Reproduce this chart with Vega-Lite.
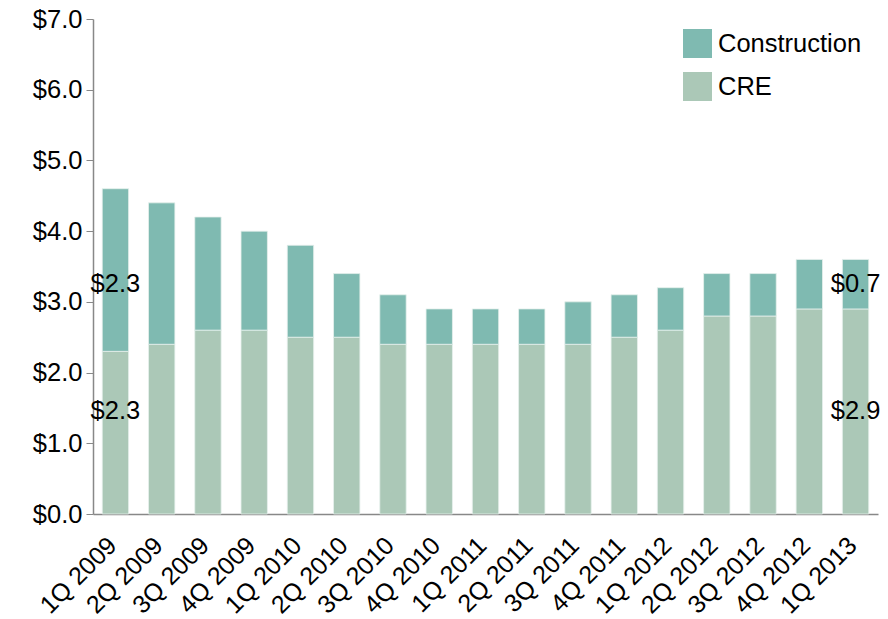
{
  "$schema": "https://vega.github.io/schema/vega-lite/v6.json",
  "autosize": {"type": "none"},
  "padding": {"left": 93, "top": 19, "right": 10, "bottom": 105},
  "width": 785,
  "height": 495,
  "background": "white",
  "config": {
    "view": {"stroke": null},
    "font": "Liberation Sans",
    "text": {"font": "Liberation Sans"}
  },
  "datasets": {
    "bars": [
      {"q": "1Q 2009", "series": "CRE", "value": 2.3}, {"q": "1Q 2009", "series": "Construction", "value": 2.3},
      {"q": "2Q 2009", "series": "CRE", "value": 2.4}, {"q": "2Q 2009", "series": "Construction", "value": 2.0},
      {"q": "3Q 2009", "series": "CRE", "value": 2.6}, {"q": "3Q 2009", "series": "Construction", "value": 1.6},
      {"q": "4Q 2009", "series": "CRE", "value": 2.6}, {"q": "4Q 2009", "series": "Construction", "value": 1.4},
      {"q": "1Q 2010", "series": "CRE", "value": 2.5}, {"q": "1Q 2010", "series": "Construction", "value": 1.3},
      {"q": "2Q 2010", "series": "CRE", "value": 2.5}, {"q": "2Q 2010", "series": "Construction", "value": 0.9},
      {"q": "3Q 2010", "series": "CRE", "value": 2.4}, {"q": "3Q 2010", "series": "Construction", "value": 0.7},
      {"q": "4Q 2010", "series": "CRE", "value": 2.4}, {"q": "4Q 2010", "series": "Construction", "value": 0.5},
      {"q": "1Q 2011", "series": "CRE", "value": 2.4}, {"q": "1Q 2011", "series": "Construction", "value": 0.5},
      {"q": "2Q 2011", "series": "CRE", "value": 2.4}, {"q": "2Q 2011", "series": "Construction", "value": 0.5},
      {"q": "3Q 2011", "series": "CRE", "value": 2.4}, {"q": "3Q 2011", "series": "Construction", "value": 0.6},
      {"q": "4Q 2011", "series": "CRE", "value": 2.5}, {"q": "4Q 2011", "series": "Construction", "value": 0.6},
      {"q": "1Q 2012", "series": "CRE", "value": 2.6}, {"q": "1Q 2012", "series": "Construction", "value": 0.6},
      {"q": "2Q 2012", "series": "CRE", "value": 2.8}, {"q": "2Q 2012", "series": "Construction", "value": 0.6},
      {"q": "3Q 2012", "series": "CRE", "value": 2.8}, {"q": "3Q 2012", "series": "Construction", "value": 0.6},
      {"q": "4Q 2012", "series": "CRE", "value": 2.9}, {"q": "4Q 2012", "series": "Construction", "value": 0.7},
      {"q": "1Q 2013", "series": "CRE", "value": 2.9}, {"q": "1Q 2013", "series": "Construction", "value": 0.7}
    ],
    "labels": [
      {"q": "1Q 2009", "series": "Construction", "label": "$2.3"},
      {"q": "1Q 2009", "series": "CRE", "label": "$2.3"},
      {"q": "1Q 2013", "series": "Construction", "label": "$0.7"},
      {"q": "1Q 2013", "series": "CRE", "label": "$2.9"}
    ]
  },
  "layer": [
    {
      "data": {"name": "bars"},
      "mark": {"type": "bar", "stroke": "#e6f0ec", "strokeWidth": 0.8},
      "encoding": {
        "x": {
          "field": "q", "type": "nominal", "sort": null,
          "scale": {"paddingInner": 0.43, "paddingOuter": 0.2},
          "axis": {
            "title": null, "labelAngle": -45, "labelAlign": "right", "labelBaseline": "middle",
            "labelFontSize": 25, "labelColor": "#000", "ticks": false, "domainColor": "#888888",
            "domainWidth": 1.5, "labelPadding": 27, "labelOffset": -3, "labelFont": "Liberation Sans"
          }
        },
        "y": {
          "field": "value", "type": "quantitative", "stack": "zero",
          "scale": {"domain": [0, 7]},
          "axis": {
            "title": null, "values": [0, 1, 2, 3, 4, 5, 6, 7], "format": "$.1f",
            "labelFontSize": 25.5, "labelColor": "#000", "grid": false,
            "domainColor": "#888888", "domainWidth": 1.5, "tickColor": "#888888", "tickSize": 7,
            "labelPadding": 4, "labelFont": "Liberation Sans"
          }
        },
        "color": {
          "field": "series", "type": "nominal",
          "scale": {"domain": ["Construction", "CRE"], "range": ["#7FBAB1", "#ABC8B7"]},
          "legend": {
            "title": null, "orient": "none", "legendX": 590, "legendY": 10,
            "symbolType": "square", "symbolSize": 841, "symbolStrokeWidth": 0,
            "labelFontSize": 25.5, "labelColor": "#000", "rowPadding": 14, "labelOffset": 6,
            "labelFont": "Liberation Sans"
          }
        },
        "order": {"field": "series", "sort": "ascending"}
      }
    },
    {
      "data": {"name": "labels"},
      "transform": [{"filter": "datum.series === 'Construction'"}],
      "mark": {"type": "text", "fontSize": 25.5, "color": "#000", "font": "Liberation Sans"},
      "encoding": {
        "x": {"field": "q", "type": "nominal", "sort": null},
        "y": {"datum": 3.25},
        "text": {"field": "label"}
      }
    },
    {
      "data": {"name": "labels"},
      "transform": [{"filter": "datum.series === 'CRE'"}],
      "mark": {"type": "text", "fontSize": 25.5, "color": "#000", "font": "Liberation Sans"},
      "encoding": {
        "x": {"field": "q", "type": "nominal", "sort": null},
        "y": {"datum": 1.45},
        "text": {"field": "label"}
      }
    }
  ]
}
